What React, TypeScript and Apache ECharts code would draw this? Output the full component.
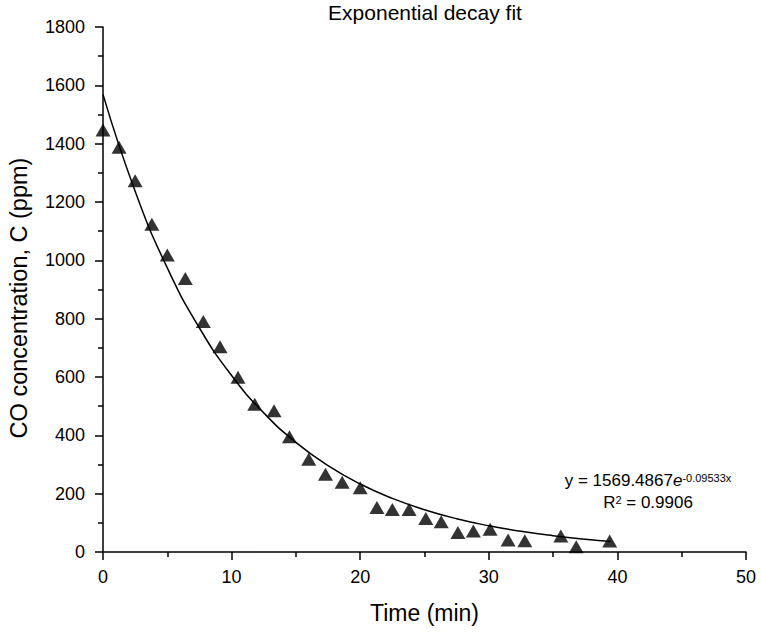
import React, { useEffect, useRef } from "react";
import * as echarts from "echarts";

const timeMin = [0, 1.25, 2.5, 3.8, 5.0, 6.4, 7.8, 9.1, 10.5, 11.8, 13.3, 14.5, 16.0, 17.3, 18.6, 20.0, 21.3, 22.5, 23.8, 25.1, 26.3, 27.6, 28.8, 30.1, 31.5, 32.8, 35.6, 36.8, 39.4];
const coPpm = [1447, 1388, 1273, 1124, 1018, 938, 790, 704, 599, 507, 484, 395, 318, 267, 239, 220, 153, 146, 146, 115, 104, 67, 72, 78, 41, 39, 55, 18, 38];

const fitX = [0, 2.5, 5, 7.5, 10, 12.5, 15, 17.5, 20, 22.5, 25, 27.5, 30, 32.5, 35, 37.5, 39.5];
const fitY = [1569, 1237, 974, 768, 605, 477, 376, 296, 233, 184, 145, 114, 90, 71, 56, 44, 36];

const titleText = "Exponential decay fit";
const xAxisName = "Time (min)";
const yAxisName = "CO concentration, C (ppm)";

const FONT = "'Liberation Sans', Arial, sans-serif";
const INK = "#000";

export default function App() {
  const ref = useRef<HTMLDivElement>(null);
  useEffect(() => {
    if (!ref.current) return;
    const chart = echarts.init(ref.current, null, { renderer: "svg" });
    const axisLine = { lineStyle: { color: "#000", width: 1.5 } };
    chart.setOption({
      animation: false,
      backgroundColor: "#fff",
      textStyle: { fontFamily: FONT },
      title: {
        text: titleText,
        left: 425,
        top: 2,
        padding: 0,
        textAlign: "center",
        textStyle: { fontFamily: FONT, fontSize: 21, fontWeight: "normal", color: INK },
      },
      grid: { left: 103, right: 15, top: 27, bottom: 81, containLabel: false, outerBoundsMode: "none" },
      xAxis: {
        type: "value",
        min: 0,
        max: 50,
        interval: 10,
        name: xAxisName,
        nameLocation: "middle",
        nameGap: 49,
        nameTextStyle: { fontFamily: FONT, fontSize: 23, color: INK },
        axisLine: { ...axisLine, onZero: false },
        axisTick: { show: true, length: 8, lineStyle: { color: "#000", width: 1.5 } },
        minorTick: { show: true, splitNumber: 2, length: 5, lineStyle: { color: "#000", width: 1.5 } },
        splitLine: { show: false },
        axisLabel: { fontFamily: FONT, fontSize: 18, color: INK, margin: 16, formatter: (v: number) => String(v) },
      },
      yAxis: {
        type: "value",
        min: 0,
        max: 1800,
        interval: 200,
        axisLine: { ...axisLine, onZero: false },
        axisTick: { show: true, length: 8, lineStyle: { color: "#000", width: 1.5 } },
        minorTick: { show: true, splitNumber: 2, length: 5, lineStyle: { color: "#000", width: 1.5 } },
        splitLine: { show: false },
        axisLabel: { fontFamily: FONT, fontSize: 18, color: INK, margin: 18, formatter: (v: number) => String(v) },
      },
      series: [
        {
          type: "line",
          name: "fit",
          data: fitX.map((x, i) => [x, fitY[i]]),
          smooth: true,
          showSymbol: false,
          symbol: "none",
          lineStyle: { color: "#000", width: 1.5 },
          clip: false,
          z: 2,
        },
        {
          type: "scatter",
          name: "CO",
          data: timeMin.map((x, i) => [x, coPpm[i]]),
          symbol: "triangle",
          symbolSize: [15, 13],
          itemStyle: { color: "#000" },
          clip: false,
          z: 3,
        },
      ],
      graphic: [
        {
          type: "text",
          x: 19,
          y: 298,
          rotation: Math.PI / 2,
          style: {
            text: yAxisName,
            fontFamily: FONT,
            fontSize: 23.5,
            fill: INK,
            align: "center",
            verticalAlign: "middle",
          },
        },
        {
          type: "text",
          x: 648,
          y: 472,
          style: {
            text: "y = 1569.4867{i|e}{sup|-0.09533x}",
            fontFamily: FONT,
            fontSize: 17,
            fill: INK,
            align: "center",
            rich: {
              i: { fontFamily: FONT, fontSize: 17, fontStyle: "italic", fill: INK },
              sup: { fontFamily: FONT, fontSize: 11, fill: INK, verticalAlign: "top" },
            },
          },
        },
        {
          type: "text",
          x: 648,
          y: 494,
          style: {
            text: "R{sup|2} = 0.9906",
            fontFamily: FONT,
            fontSize: 17,
            fill: INK,
            align: "center",
            rich: {
              sup: { fontFamily: FONT, fontSize: 11, fill: INK, verticalAlign: "top" },
            },
          },
        },
      ],
    });
    return () => chart.dispose();
  }, []);
  return (
    <div
      ref={ref}
      style={{ position: "absolute", left: 0, top: 0, width: 761, height: 633, background: "#fff" }}
    />
  );
}
